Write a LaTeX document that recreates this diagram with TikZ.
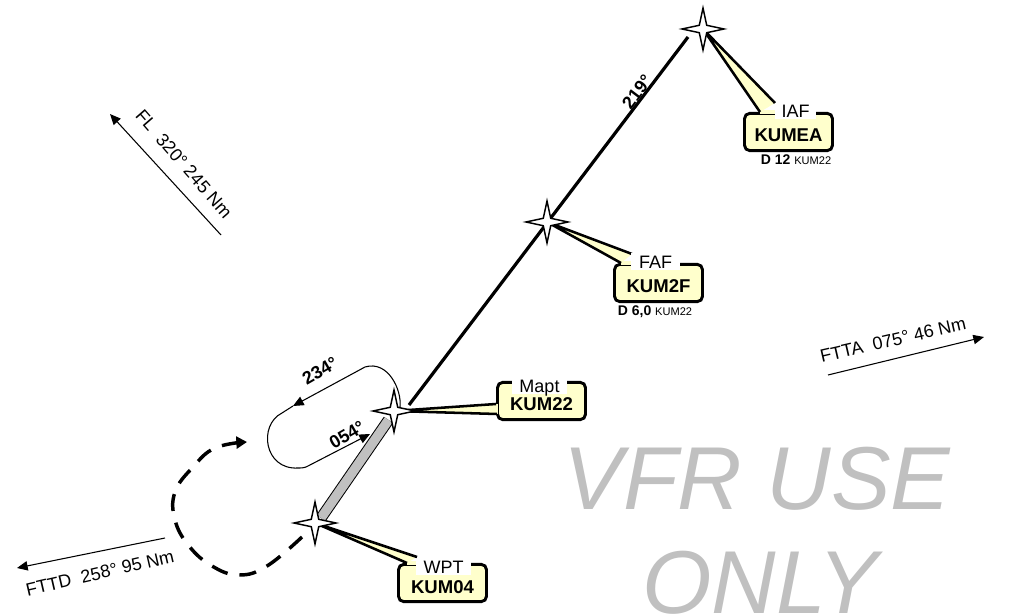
\documentclass[tikz,border=0pt]{standalone}
\usepackage{fontspec}
\usepackage{xcolor}
\usetikzlibrary{arrows.meta,shapes.geometric}
\setmainfont{Liberation Sans}
\definecolor{tagyellow}{HTML}{FFFFCC}
\definecolor{vfrgrey}{HTML}{C0C0C0}
\tikzset{
	fix/.style={star, star points=4, star point ratio=4, minimum size=31.5pt, inner sep=0pt, draw=black, fill=white, line width=1.1pt},
	tag/.style={draw=black, fill=tagyellow, line width=2.2pt, rounded corners=4pt, minimum width=66pt, minimum height=28pt, inner sep=0pt, text height=15pt, text depth=0pt, font=\fontsize{13.9}{14}\selectfont\bfseries},
	taglabel/.style={fill=white, inner sep=0pt, minimum height=12.5pt, text height=9.8pt, text depth=0pt, font=\fontsize{13.5}{14}\selectfont},
	leader/.style={line width=1.9pt},
	track/.style={font=\fontsize{13.5}{14}\selectfont, inner sep=0pt},
	course/.style={font=\fontsize{13.5}{14}\selectfont\bfseries, inner sep=0pt},
	flow/.style={line width=0.8pt, -{Triangle[length=8pt,width=7pt]}},
	distnote/.style={inner sep=0pt, font=\fontsize{10.5}{11}\selectfont\bfseries},
	watermark/.style={text=vfrgrey, anchor=base, inner sep=0pt, font=\fontsize{67}{70}\selectfont\itshape},
}
\begin{document}
\begin{tikzpicture}[x=0.75pt,y=-0.75pt]
	\useasboundingbox (0,0) rectangle (1028,616);

	\coordinate (legtop) at (688,37);
	\coordinate (legbot) at (409,405);
	\coordinate (barlo) at (321,518);
	\coordinate (barhi) at (388.5,420);
	\coordinate (iafa) at (760,112);
	\coordinate (iafb) at (775,103);
	\coordinate (iafc) at (775,112);
	\coordinate (fafa) at (621,263);
	\coordinate (fafb) at (632,254);
	\coordinate (fafc) at (632,263);
	\coordinate (mapta) at (496,404);
	\coordinate (maptb) at (497,414);
	\coordinate (maptc) at (496,414);
	\coordinate (wpta) at (407,563);
	\coordinate (wptb) at (417,557);
	\coordinate (wptc) at (417,563);

	\draw[line width=2.4pt] (legtop) -- (legbot);

	% racetrack
	\draw[flow] (400,407) .. controls (402,390) and (388,360) .. (365,367) -- (293,406);
	\draw[flow] (293,406) -- (282,413) .. controls (258,425) and (264,470) .. (298,468) .. controls (301,468) and (305,468) .. (308,466) -- (370,434);
	\draw[line width=0.75pt, double=vfrgrey, double distance=7pt] (barlo) -- (barhi);
	\draw[line width=2.6pt, dash pattern=on 12.75pt off 9pt, -{Triangle[length=8pt,width=9pt]}] plot[smooth, tension=0.7] coordinates {(302,537) (267,566) (239,575) (212,566) (189,546) (175,520) (175,492) (193,467) (215,448) (247,442)};

	\node[tag] (kumea) at (788.5,132) {KUMEA};
	\node[tag] (kum2f) at (658.5,283) {KUM2F};
	\node[tag] (kum22) at (541.5,401) {KUM22};
	\node[tag] (kum04) at (442.5,583) {KUM04};

	\coordinate (iaf) at (703,29);
	\coordinate (faf) at (547,222);
	\coordinate (mapt) at (394,411);
	\coordinate (wpt) at (315,523);

	\foreach \i in {iaf,faf,mapt,wpt}{
		\draw[tagyellow, line width=2.4pt] (\i a) -- (\i c);
		\fill[tagyellow] (\i) -- (\i a) -- (\i b) -- cycle;
		\draw[leader] (\i a) -- (\i) -- (\i b);
	}

	\node[taglabel, minimum width=30.75pt] (iaflabel) at (795.5,111) {IAF};
	\node[taglabel, minimum width=36.75pt] (faflabel) at (655.5,261.5) {FAF};
	\node[taglabel, minimum width=41.25pt] (maptlabel) at (539.5,386) {Mapt};
	\node[taglabel, minimum width=41.25pt] (wptlabel) at (443.5,567) {WPT};

	\foreach \i/\x/\y in {iafstar/703/29,fafstar/547/222,maptstar/394/411,wptstar/315/523}{
		\node[fix] (\i) at (\x,\y) {};
	}

	\node[distnote] (iafdist) at (796,160) {D 12 {\fontsize{8.3}{9}\selectfont\mdseries KUM22}};
	\node[distnote] (fafdist) at (655,312) {D 6,0 {\fontsize{8.3}{9}\selectfont\mdseries KUM22}};

	\node[course, rotate=53] (inbound) at (637,92) {219°};
	\node[course, rotate=30] (outcourse) at (320,371) {234°};
	\node[course, rotate=30] (incourse) at (347,435) {054°};

	\coordinate (flstart) at (221,235);
	\coordinate (fltip) at (110,114);
	\coordinate (fttastart) at (828,375);
	\coordinate (fttatip) at (984,337);
	\coordinate (fttdstart) at (165,538);
	\coordinate (fttdtip) at (17,568);
	\foreach \i in {fl,ftta,fttd}{
		\draw[flow] (\i start) -- (\i tip);
	}
	\node[track, rotate=-49] (fltext) at (184,164) {FL\ \ 320° 245 Nm};
	\node[track, rotate=13] (fttatext) at (893,340) {FTTA\ \ 075° 46 Nm};
	\node[track, rotate=13] (fttdtext) at (100,573) {FTTD\ \ 258° 95 Nm};

	\node[watermark] (vfruse) at (757,509) {VFR USE};
	\node[watermark] (only) at (760,613) {ONLY};
\end{tikzpicture}
\end{document}
